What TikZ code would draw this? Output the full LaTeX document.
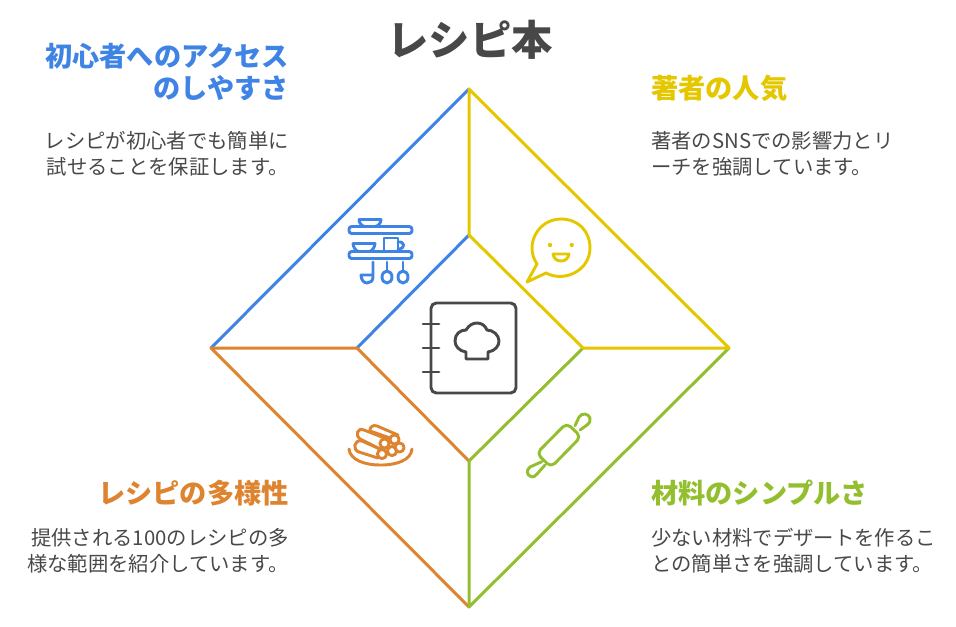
\documentclass[tikz,border=0pt]{standalone}
\usepackage{fontspec}
\setmainfont{Noto Sans CJK JP}
\usetikzlibrary{positioning}
\definecolor{inkblue}{HTML}{3F84E5}
\definecolor{inkyellow}{HTML}{E5C700}
\definecolor{inkgreen}{HTML}{93BF2E}
\definecolor{inkorange}{HTML}{DE8431}
\definecolor{inkdark}{HTML}{484848}

\begin{document}
\begin{tikzpicture}[x=0.75pt,y=-0.75pt,line join=round,line cap=round,
                    edge/.style={line width=2.25pt},
                    icon/.style={line width=2.2pt},
                    title/.style={inner sep=0pt,text=inkdark,font=\fontsize{31}{36}\selectfont\bfseries},
                    head/.style={inner sep=0pt,font=\fontsize{20.4}{24}\selectfont\bfseries},
                    body/.style={inner sep=0pt,text=inkdark,font=\fontsize{15.25}{19.5}\selectfont}]

  \useasboundingbox (0,0) rectangle (956,626);

  \coordinate (OT) at (469,89);
  \coordinate (OR) at (729,348);
  \coordinate (OB) at (469,607);
  \coordinate (OL) at (211,348);
  \coordinate (IT) at (469,235);
  \coordinate (IR) at (583,348);
  \coordinate (IB) at (469,461);
  \coordinate (IL) at (357,348);

  \draw[edge,inkblue]   (OL) -- (OT) (IT) -- (IL);
  \draw[edge,inkorange] (OB) -- (OL) -- (IL) -- (IB);
  \draw[edge,inkgreen]  (OR) -- (OB) -- (IB) -- (IR);
  \draw[edge,inkyellow] (IT) -- (OT) -- (OR) -- (IR) -- (IT);

  \node[title] (Title) at (470,40) {レシピ本};

  \node[head,text=inkblue,align=right,anchor=east] (HeadA) at (289,72) {初心者へのアクセス\\のしやすさ};
  \node[body,align=right] (BodyA) [below left=22.25pt and 0pt of HeadA.south east] {レシピが初心者でも簡単に\\試せることを保証します。};

  \node[head,text=inkyellow,anchor=west] (HeadB) at (651,88) {著者の人気};
  \node[body,align=left] (BodyB) [below right=22.25pt and 0pt of HeadB.south west] {著者のSNSでの影響力とリ\\ーチを強調しています。};

  \node[head,text=inkgreen,anchor=west] (HeadC) at (651,493) {材料のシンプルさ};
  \node[body,align=left] (BodyC) [below right=16pt and 0pt of HeadC.south west] {少ない材料でデザートを作るこ\\との簡単さを強調しています。};

  \node[head,text=inkorange,anchor=east] (HeadD) at (289,493) {レシピの多様性};
  \node[body,align=right] (BodyD) [below left=16pt and 0pt of HeadD.south east] {提供される100のレシピの多\\様な範囲を紹介しています。};

  % book
  \draw[icon,inkdark,rounded corners=4pt] (431,303) rectangle (516,393);
  \foreach \y in {324,348,372}
    \draw[icon,inkdark] (423,\y) -- (439,\y);
  \draw[icon,inkdark] (466,359) -- (466,352)
    .. controls (459,351) and (455,346) .. (455,341)
    .. controls (455,334) and (460,330) .. (466,330)
    .. controls (469,325) and (473,323) .. (477,323)
    .. controls (481,323) and (485,325) .. (487,330)
    .. controls (493,330) and (499,335) .. (499,341)
    .. controls (499,346) and (495,351) .. (488,352)
    -- (488,359) -- cycle;

  % shelf
  \draw[icon,inkblue,rounded corners=2pt] (349,226.5) rectangle (412,233.5);
  \draw[icon,inkblue,rounded corners=2pt] (349,251.5) rectangle (412,258.5);
  \draw[icon,inkblue] (359,219.5) -- (381,219.5) .. controls (381,223) and (378,226.5) .. (375,226.5)
    -- (365,226.5) .. controls (362,226.5) and (359,223) .. (359,219.5);
  \draw[icon,inkblue] (353,243.5) -- (375,243.5) .. controls (375,247) and (372,251.5) .. (369,251.5)
    -- (359,251.5) .. controls (356,251.5) and (353,247) .. (353,243.5);
  \draw[icon,inkblue] (384,251.5) -- (384,238) -- (398,238) -- (398,251.5);
  \draw[icon,inkblue] (398,242) .. controls (405,241) and (406,249) .. (398,249);
  \draw[icon,inkblue] (373,262) -- (373,277) .. controls (373,281) and (370,283) .. (367,283)
    .. controls (364,283) and (361,280) .. (361,275) -- (373,275);
  \foreach \x in {387,403}{
    \draw[icon,inkblue] (\x,262) -- (\x,271);
    \draw[icon,inkblue] (\x,277) ellipse (5 and 6);
  }

  % smile
  \draw[icon,inkyellow] (537,264) -- (527,282) -- (546,273)
    .. controls (565,283) and (590,270) .. (590,248)
    .. controls (590,231) and (578,219) .. (561,219)
    .. controls (538,219) and (524,245) .. (537,264) -- cycle;
  \fill[inkyellow] (550,245) circle (2.2) (571.7,245) circle (2.2);
  \draw[icon,inkyellow] (553,254) -- (569,254) .. controls (568,259) and (565,261) .. (561,261)
    .. controls (557,261) and (554,259) .. (553,254) -- cycle;

  % rolls
  \draw[icon,inkorange] (349,449) .. controls (350,460) and (365,465) .. (380,465)
    -- (381,465) .. controls (397,465) and (411,460) .. (412,449);
  \foreach \x/\y in {384.5/443.5,394.5/439.5,399.5/447.5,392/451,382/454}
    \draw[icon,inkorange] (\x,\y) circle (4.6);
  \draw[icon,inkorange] (398,435) -- (377,426) .. controls (373,424) and (369,428) .. (370,431);
  \draw[icon,inkorange] (387,439) -- (364,430) .. controls (357,427) and (355,436) .. (360,439)
    -- (380,449);
  \draw[icon,inkorange] (370,431) -- (390,438);
  \draw[icon,inkorange] (380,449) -- (362,441) .. controls (354,439) and (352,450) .. (359,452)
    -- (378,458);

  % rolling pin
  \draw[icon,inkgreen,rounded corners=4pt] (566.7,423) -- (581,436.7) -- (551,467.3) -- (536.7,453.3) -- cycle;
  \draw[icon,inkgreen] (575,425.7) -- (579,417) .. controls (582,412) and (589,414) .. (590,418)
    .. controls (591,421) and (589,424) .. (587,425) -- (580,430);
  \draw[icon,inkgreen] (541.7,461.7) -- (530,467) .. controls (526,470) and (527,475) .. (530,476)
    .. controls (533,478) and (536,476) .. (537,474) -- (545,465);
\end{tikzpicture}
\end{document}
